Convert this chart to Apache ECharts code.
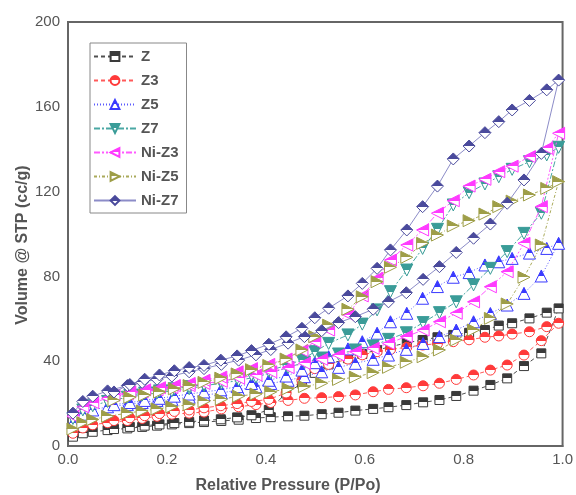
<!DOCTYPE html>
<html>
<head>
<meta charset="utf-8">
<script src="https://cdn.jsdelivr.net/npm/echarts@6/dist/echarts.min.js"></script>
<style>
  html, body { margin: 0; padding: 0; background: #fff; }
  #chart { width: 576px; height: 495px; }
</style>
</head>
<body>
<div id="chart"></div>
<script>
// Relative pressures of the adsorption branch (rising) and desorption branch (falling)
const adsP = [0.01, 0.03, 0.05, 0.08, 0.12, 0.15, 0.18, 0.21, 0.245, 0.275, 0.31, 0.345, 0.38, 0.41, 0.445,
              0.478, 0.513, 0.547, 0.581, 0.617, 0.648, 0.684, 0.718, 0.751, 0.785, 0.82, 0.854, 0.888, 0.922, 0.957, 0.992];
const desP = [0.968, 0.933, 0.898, 0.871, 0.843, 0.811, 0.779, 0.747, 0.717, 0.685, 0.652, 0.625, 0.595, 0.566,
              0.527, 0.499, 0.473, 0.441, 0.406, 0.371, 0.342, 0.309, 0.275, 0.245, 0.215, 0.185, 0.155, 0.125, 0.093];

// Adsorbed volume (cc/g STP) for each sample
const zAds = [4.4, 6, 6.7, 7.5, 8.3, 9, 9.6, 10.2, 10.8, 11.3, 11.8, 12.4, 13.2, 13.6, 14,
              14.3, 15, 15.7, 16.7, 17.5, 18.3, 19.3, 20.6, 21.7, 23.6, 26.1, 28.8, 31.9, 37.7, 43.7, 64.9];
const zDes = [62.9, 60.2, 57.9, 56.8, 54.7, 53.4, 52.4, 51.3, 50, 48.7, 46.8, 45.3, 43.4, 41.4,
              38.5, 34.5, 29.5, 24.8, 17, 14.5, 13.5, 12.6, 12, 11.4, 10.8, 10.2, 9.6, 9, 8];

const z3Ads = [6, 8.5, 10, 11, 12, 13, 14, 15, 15.5, 16, 17.5, 18.5, 19.5, 20.5, 21.5,
               22.5, 22.8, 23.3, 24.1, 25.6, 26.7, 27.5, 28.4, 29.6, 31.4, 33.5, 35.8, 38.2, 42.9, 49.7, 57.9];
const z3Des = [56.3, 53.9, 52.8, 51.9, 51.3, 50.1, 49.2, 48.3, 47.6, 46.6, 45.5, 44.5, 43, 41,
               38.5, 36.5, 31, 25, 22, 21, 20, 19, 18, 17, 16.3, 15.3, 14.3, 13.3, 12];

const z5Ads = [11, 15, 17, 18.5, 19.5, 20.5, 21.5, 22, 23, 24, 25, 26.5, 28, 29.5, 31,
               32.7, 35, 37.1, 39, 40.9, 42.9, 45.6, 48.4, 51.6, 54.7, 58.6, 62.5, 66.5, 72, 80.2, 95.6];
const z5Des = [93.2, 91, 88.5, 86.9, 85.4, 81.8, 79.6, 75.2, 69.7, 62.6, 58.6, 53.2, 49.2, 45.8,
               42.1, 39.3, 35.8, 33, 31, 29.5, 28, 26.5, 25.5, 24.5, 23.5, 22.5, 21.5, 20.5, 19.5];

const z7Ads = [13, 17, 19, 21, 23, 24, 25, 26, 27, 28.5, 29.5, 31, 32.5, 34.5, 37,
               39.5, 41.5, 43.4, 45.3, 47.2, 50.3, 53.4, 58.2, 62.9, 68, 76, 83.8, 91.7, 100.3, 109.8, 140.9];
const z7Des = [137.3, 134.1, 130.5, 127, 123.6, 119.5, 113.7, 102.2, 93.2, 83, 72.8, 64.2, 57.5, 52.4,
               48.4, 44.5, 40.6, 38, 35.5, 33.5, 32, 30.5, 29, 28, 27, 26, 25, 24, 23];

const niZ3Ads = [14, 18.5, 20.5, 22.5, 24.5, 25.5, 26.5, 27.5, 28.5, 29.5, 30.5, 32, 33.5, 35, 37,
                 39, 40.9, 42.9, 44.5, 46.1, 48.4, 51.6, 54.7, 58.6, 62.6, 68, 75.1, 82.2, 95.6, 112.9, 147.5];
const niZ3Des = [140.4, 136.5, 132, 129.4, 125.8, 122.6, 115.7, 109.8, 101.9, 94.8, 87.7, 79.1, 70.8, 62,
                 54.7, 49.2, 45, 41, 38.5, 36.5, 35, 32.5, 31, 29.5, 28.5, 27.5, 26.5, 25.5, 24];

const niZ5Ads = [8, 11, 12.5, 14, 15.5, 16.5, 17.5, 18.5, 19.5, 21, 22, 23.5, 24.5, 25.5, 27,
                 28, 29.6, 31.4, 32.5, 34.6, 37.1, 39.5, 42.1, 45.3, 50, 54.7, 60.2, 67, 79.6, 94.8, 124.7];
const niZ5Des = [121.5, 118.4, 115.5, 112.9, 109.4, 106.3, 103.8, 99.5, 95.6, 89, 84.3, 77.5, 70.4, 64.5,
                 57, 51.6, 45.3, 41, 38, 36, 34, 32, 30, 28.5, 27, 25.5, 24, 23, 21.5];

const niZ7Ads = [15.5, 21, 23.5, 26, 28.5, 30, 31.5, 33, 35, 36.5, 38.5, 40.5, 43, 45.5, 48.5,
                 51.6, 54.4, 58.2, 61, 64.5, 68, 72.3, 78.6, 84.6, 91.3, 98, 104.7, 114.5, 125.5, 138, 172.6];
const niZ7Des = [168, 163, 158.5, 153, 147.8, 141.5, 135.4, 122.6, 112.9, 101.9, 92.5, 83.8, 76.7, 70.8,
                 65, 60.5, 55.5, 51.5, 48, 45, 42.5, 40.5, 38, 37, 35.5, 33.5, 31.5, 29, 25.5];

const sampleNames = ['Z', 'Z3', 'Z5', 'Z7', 'Ni-Z3', 'Ni-Z5', 'Ni-Z7'];
const xTicks = [0, 0.2, 0.4, 0.6, 0.8, 1.0];
const yTicks = [0, 40, 80, 120, 160, 200];

// One closed isotherm loop per sample: adsorption up to P/Po ~ 1, then desorption back down
function loop(ads, des) {
  return adsP.map((p, i) => [p, ads[i]]).concat(desP.map((p, i) => [p, des[i]]));
}

// Markers: top half filled, bottom half open
function halfFill(c) {
  return new echarts.graphic.LinearGradient(0, 0, 0, 1, [
    { offset: 0, color: c }, { offset: 0.5, color: c },
    { offset: 0.5, color: '#ffffff' }, { offset: 1, color: '#ffffff' }
  ]);
}

const styles = [
  { data: loop(zAds, zDes),       mark: '#3a3a3a', line: '#505050', dash: [4, 3],             symbol: 'rect', size: 9 },
  { data: loop(z3Ads, z3Des),     mark: '#ff3a3a', line: '#ff5a5a', dash: [4, 3],             symbol: 'circle', size: 10 },
  { data: loop(z5Ads, z5Des),     mark: '#3a3aff', line: '#5a5aff', dash: [1, 2],             symbol: 'triangle', size: 12 },
  { data: loop(z7Ads, z7Des),     mark: '#3a9c98', line: '#4aa8a4', dash: [6, 2, 2, 2],       symbol: 'path://M0,0 L10,0 L5,10 Z', size: 12 },
  { data: loop(niZ3Ads, niZ3Des), mark: '#ff3aff', line: '#ff5aff', dash: [6, 2, 2, 2, 2, 2], symbol: 'path://M0,5 L10,0 L10,10 Z', size: 12 },
  { data: loop(niZ5Ads, niZ5Des), mark: '#9e9e48', line: '#aaaa5a', dash: [3, 2, 1, 2],       symbol: 'path://M10,5 L0,0 L0,10 Z', size: 12 },
  { data: loop(niZ7Ads, niZ7Des), mark: '#4a4a9c', line: '#8c8cc8', dash: 'solid',            symbol: 'diamond', size: 12 }
];

const series = styles.map((s, k) => ({
  name: sampleNames[k],
  type: 'line',
  data: s.data,
  symbol: s.symbol,
  symbolSize: s.size,
  symbolKeepAspect: true,
  showAllSymbol: true,
  animation: false,
  z: 2 + k,
  lineStyle: { color: s.line, width: 1, type: s.dash },
  itemStyle: { color: halfFill(s.mark), borderColor: s.mark, borderWidth: 1 },
  emphasis: { disabled: true }
}));

const chart = echarts.init(document.getElementById('chart'), null, { renderer: 'canvas' });
chart.setOption({
  backgroundColor: '#ffffff',
  animation: false,
  textStyle: { fontFamily: 'Liberation Sans, Arial, sans-serif' },
  grid: { left: 68, right: 10, top: 22, bottom: 49, show: true, borderColor: '#666', borderWidth: 2, backgroundColor: 'transparent' },
  legend: {
    orient: 'vertical', left: 90, top: 43,
    padding: [6, 8, 5, 3],
    itemWidth: 42, itemHeight: 11, itemGap: 9,
    borderColor: '#888', borderWidth: 1,
    textStyle: { color: '#555', fontSize: 15, fontWeight: 'bold', lineHeight: 15, fontFamily: 'Liberation Sans, Arial, sans-serif' },
    data: sampleNames
  },
  xAxis: {
    type: 'value', min: xTicks[0], max: xTicks[xTicks.length - 1], interval: 0.2,
    axisLine: { show: true, lineStyle: { color: '#666', width: 2 } },
    axisTick: { show: false }, splitLine: { show: false },
    axisLabel: { color: '#555', fontSize: 15, margin: 6, formatter: v => v.toFixed(1) }
  },
  yAxis: {
    type: 'value', min: yTicks[0], max: yTicks[yTicks.length - 1], interval: 40,
    axisLine: { show: true, lineStyle: { color: '#666', width: 2 } },
    axisTick: { show: false }, splitLine: { show: false },
    axisLabel: { color: '#555', fontSize: 15, margin: 8 }
  },
  graphic: [
    { type: 'text', left: 'center', top: 478,
      style: { text: 'Relative Pressure (P/Po)', fill: '#555', font: 'bold 16px "Liberation Sans", Arial, sans-serif' } },
    { type: 'text', x: 23, y: 245, rotation: Math.PI / 2,
      style: { text: 'Volume @ STP (cc/g)', fill: '#555', font: 'bold 16px "Liberation Sans", Arial, sans-serif', textAlign: 'center', textVerticalAlign: 'middle' } }
  ],
  series: series
});
</script>
</body>
</html>
